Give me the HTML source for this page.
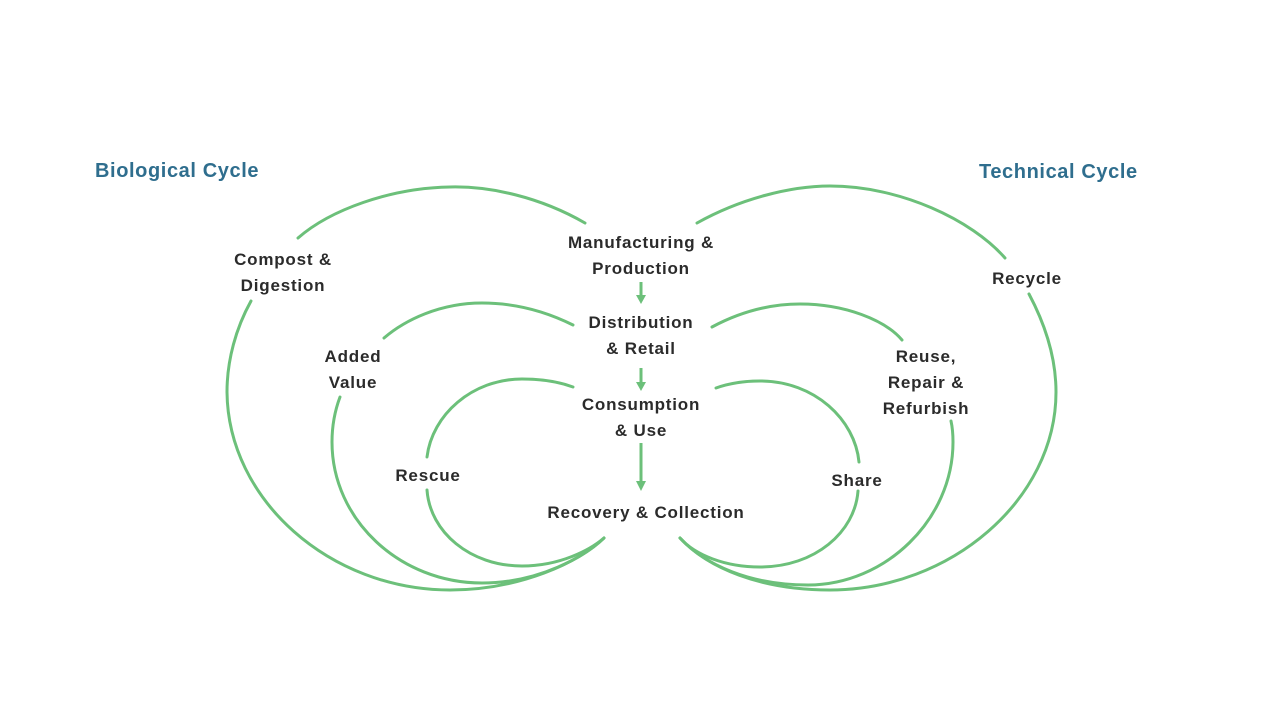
<!DOCTYPE html>
<html><head><meta charset="utf-8"><style>
html,body{margin:0;padding:0;background:#fff;}
svg{display:block}
text{font-family:"Liberation Sans",sans-serif;font-weight:bold;}
.l{fill:#2b2b2b;font-size:17px;letter-spacing:0.8px;text-anchor:middle}
.t{fill:#2f6e8e;font-size:20px;letter-spacing:0.6px}
.c{fill:none;stroke:#6cc07a;stroke-width:3;stroke-linecap:round}
</style></head><body>
<svg width="1280" height="720" viewBox="0 0 1280 720">
<text class="t" x="95" y="177">Biological Cycle</text>
<text class="t" x="979" y="178">Technical Cycle</text>

<path class="c" d="M585,223 C540,197 490,186 450,187 C390,188 330,210 298,238"/>
<path class="c" d="M251,301 C236,328 227,360 227,392 C228,500 330,590 450,590 C520,590 580,562 604,538"/>
<path class="c" d="M573,325 C545,311 515,303 482,303 C440,303 405,320 384,338"/>
<path class="c" d="M340,397 C334,413 332,428 332,442 C332,520 400,583 482,583 C540,583 585,556 604,538"/>
<path class="c" d="M573,387 C557,381 540,379 522,379 C472,379 432,415 427,457"/>
<path class="c" d="M427,490 C430,532 470,566 522,566 C560,566 590,550 604,538"/>

<path class="c" d="M697,223 C740,199 790,186 830,186 C900,186 972,220 1005,258"/>
<path class="c" d="M1029,294 C1046,326 1056,360 1056,392 C1056,500 950,590 830,590 C760,590 708,568 680,538"/>
<path class="c" d="M712,327 C740,312 770,304 800,304 C845,304 885,320 902,340"/>
<path class="c" d="M951,421 C953,430 953,437 953,442 C953,520 885,585 808,585 C750,585 705,565 680,538"/>
<path class="c" d="M716,388 C730,383 745,381 760,381 C815,381 855,420 859,462"/>
<path class="c" d="M858,491 C855,532 815,567 760,567 C725,567 695,555 680,538"/>

<g stroke="#6cc07a" stroke-width="3" fill="#6cc07a">
<line x1="641" y1="282" x2="641" y2="296"/>
<polygon points="636,295 646,295 641,304" stroke="none"/>
<line x1="641" y1="368" x2="641" y2="383"/>
<polygon points="636,382 646,382 641,391" stroke="none"/>
<line x1="641" y1="443" x2="641" y2="482"/>
<polygon points="636,481 646,481 641,491" stroke="none"/>
</g>

<text class="l" x="641" y="248">Manufacturing &amp;</text>
<text class="l" x="641" y="274">Production</text>
<text class="l" x="641" y="328">Distribution</text>
<text class="l" x="641" y="354">&amp; Retail</text>
<text class="l" x="641" y="410">Consumption</text>
<text class="l" x="641" y="436">&amp; Use</text>
<text class="l" x="646" y="518">Recovery &amp; Collection</text>

<text class="l" x="283" y="265">Compost &amp;</text>
<text class="l" x="283" y="291">Digestion</text>
<text class="l" x="353" y="362">Added</text>
<text class="l" x="353" y="388">Value</text>
<text class="l" x="428" y="481">Rescue</text>

<text class="l" x="1027" y="284">Recycle</text>
<text class="l" x="926" y="362">Reuse,</text>
<text class="l" x="926" y="388">Repair &amp;</text>
<text class="l" x="926" y="414">Refurbish</text>
<text class="l" x="857" y="486">Share</text>
</svg>
</body></html>
